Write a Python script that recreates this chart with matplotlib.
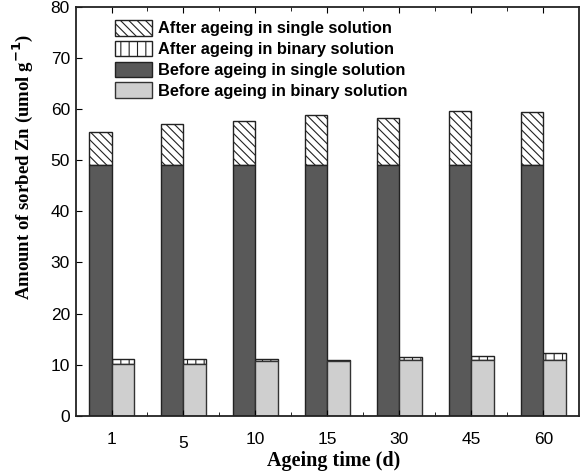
import numpy as np
import matplotlib.pyplot as plt
from matplotlib.ticker import FixedLocator

plt.rcParams['hatch.linewidth'] = 0.8

days = ['1', '5', '10', '15', '30', '45', '60']
single_before = [49.0, 49.0, 49.0, 49.0, 49.0, 49.0, 49.0]
single_after = [55.6, 57.1, 57.7, 58.9, 58.3, 59.7, 59.5]
binary_before = [10.2, 10.2, 10.7, 10.7, 10.9, 10.9, 10.9]
binary_after = [11.0, 11.0, 11.0, 10.9, 11.4, 11.6, 12.2]

x = np.arange(len(days))
w = 0.31
dark = '#595959'
light = '#cfcfcf'

fig, ax = plt.subplots(figsize=(5.81, 4.75), dpi=100)
fig.subplots_adjust(left=0.13, right=0.997, bottom=0.125, top=0.985)

# upper (after ageing) parts on top of the base bars
sa = np.array(single_after) - np.array(single_before)
ba = np.array(binary_after) - np.array(binary_before)
h1 = ax.bar(x - w/2, sa, w, bottom=single_before, color='white', edgecolor='#222222',
            hatch='\\\\\\\\', linewidth=1, label='After ageing in single solution')
h2 = ax.bar(x + w/2, ba, w, bottom=binary_before, color='white', edgecolor='#222222',
            hatch='||', linewidth=1, label='After ageing in binary solution')
h3 = ax.bar(x - w/2, single_before, w, color=dark, edgecolor='#222222', linewidth=1,
            label='Before ageing in single solution')
h4 = ax.bar(x + w/2, binary_before, w, color=light, edgecolor='#333333', linewidth=1,
            label='Before ageing in binary solution')

ax.set_xlim(-0.5, 6.5)
ax.set_ylim(0, 80)
ax.set_xticks(x)
ax.set_xticklabels(days)
ax.xaxis.set_minor_locator(FixedLocator(x[:-1] + 0.5))
ax.set_yticks(np.arange(0, 81, 10))
ax.tick_params(axis='both', which='both', direction='in', top=True, right=False,
               labelsize=12.5)
ax.tick_params(axis='x', which='major', length=4, pad=11.5)
ax.tick_params(axis='x', which='minor', length=3)
ax.tick_params(axis='y', length=4, pad=4)
for lab in ax.get_xticklabels() + ax.get_yticklabels():
    lab.set_family('Liberation Sans')
# the "5" sits a little lower in the original
ax.xaxis.get_major_ticks()[1].set_pad(14.5)

for s in ax.spines.values():
    s.set_linewidth(1.3)
    s.set_color('#222222')

ax.set_xlabel('Ageing time (d)', family='Liberation Serif', fontweight='bold',
              fontsize=14.5, labelpad=0)
ax.xaxis.label.set_x(0.513)
ax.set_ylabel('Amount of sorbed Zn (umol g$^{\\mathbf{-1}}$)', family='Liberation Serif',
              fontweight='bold', fontsize=13.5, labelpad=11)
ax.yaxis.label.set_y(0.61)

ax.legend(handles=[h1, h2, h3, h4], loc='upper left', bbox_to_anchor=(0.066, 0.985),
          frameon=False, prop={'family': 'Liberation Sans', 'weight': 'bold', 'size': 11.8},
          handlelength=2.25, handleheight=1.1, handletextpad=0.36, labelspacing=0.27,
          borderaxespad=0)

plt.savefig('out.png', dpi=100)
